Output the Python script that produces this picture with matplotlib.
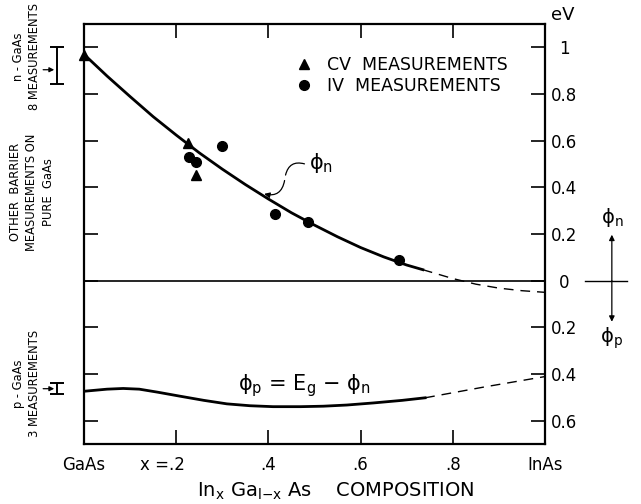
import numpy as np
import matplotlib.pyplot as plt
from matplotlib.transforms import ScaledTranslation

# barrier height data (eV); phi_p drawn below zero
cv_x = [0.0, 0.226, 0.242]
cv_y = [0.968, 0.592, 0.453]
iv_x = [0.227, 0.244, 0.299, 0.414, 0.485, 0.684]
iv_y = [0.532, 0.508, 0.575, 0.287, 0.251, 0.090]

# phi_n curve (solid part, then extrapolated dashed part)
phin_x = [0.0, 0.05, 0.10, 0.15, 0.20, 0.25, 0.30, 0.35, 0.40, 0.45, 0.50,
          0.55, 0.60, 0.65, 0.70, 0.735]
phin_y = [0.970, 0.877, 0.789, 0.703, 0.624, 0.548, 0.478, 0.412, 0.350,
          0.291, 0.238, 0.188, 0.142, 0.102, 0.067, 0.047]
phin_dash_x = [0.735, 0.80, 0.85, 0.90, 0.95, 1.0]
phin_dash_y = [0.047, 0.009, -0.015, -0.032, -0.043, -0.050]

# phi_p = Eg - phi_n curve (plotted as negative = downward)
phip_x = [0.0, 0.05, 0.085, 0.12, 0.16, 0.208, 0.26, 0.31, 0.36, 0.41, 0.47,
          0.519, 0.57, 0.628, 0.69, 0.74]
phip_y = [-0.474, -0.465, -0.462, -0.465, -0.478, -0.495, -0.513, -0.528,
          -0.536, -0.540, -0.540, -0.538, -0.533, -0.524, -0.513, -0.502]
phip_dash_x = [0.74, 0.87, 1.0]
phip_dash_y = [-0.502, -0.455, -0.411]

# pure GaAs measurement ranges (low, mean, high)
ngaas = [0.843, 0.904, 1.0]
pgaas = [-0.486, -0.463, -0.437]

xticks = [0.0, 0.2, 0.4, 0.6, 0.8, 1.0]
xlabels = ['GaAs', 'x =.2', '.4', '.6', '.8', 'InAs']
yticks = [-0.6, -0.4, -0.2, 0.0, 0.2, 0.4, 0.6, 0.8, 1.0]
ylabels = ['0.6', '0.4', '0.2', '0', '0.2', '0.4', '0.6', '0.8', '1']

fig = plt.figure(figsize=(6.41, 5.04), dpi=100)
ax = fig.add_axes([84/641, 60/504, 461/641, 420/504])

ax.plot(phin_x, phin_y, color='k', lw=2)
ax.plot(phin_dash_x, phin_dash_y, color='k', lw=1, dashes=(7, 5))
ax.plot(phip_x, phip_y, color='k', lw=2)
ax.plot(phip_dash_x, phip_dash_y, color='k', lw=1, dashes=(7, 5))
ax.axhline(0, color='k', lw=1.2)

ax.plot(cv_x, cv_y, 'k^', ms=7, ls='none', clip_on=False, label='CV  MEASUREMENTS')
ax.plot(iv_x, iv_y, 'ko', ms=7, ls='none', clip_on=False, label='IV  MEASUREMENTS')

ax.legend(loc='upper left', bbox_to_anchor=(0.44, 0.945), frameon=False,
          fontsize=12.5, handlelength=1.0, handletextpad=0.8, labelspacing=0.2,
          borderpad=0)

ax.set_xlim(0, 1)
ax.set_ylim(-0.70, 1.10)
ax.set_xticks(xticks)
ax.set_xticklabels(xlabels, fontsize=12)
ax.set_yticks(yticks)
ax.set_yticklabels(ylabels, fontsize=12)
ax.tick_params(axis='x', direction='in', length=10, width=1.2, top=True,
               bottom=True, pad=9)
ax.tick_params(axis='y', direction='in', length=10, width=1.2, left=True,
               right=True, labelleft=False, labelright=True, pad=14)
for t in ax.yaxis.get_major_ticks():
    t.label2.set_horizontalalignment('center')
# "x =.2" sits a little left of its tick
lab = ax.get_xticklabels()[1]
lab.set_transform(lab.get_transform() + ScaledTranslation(-10/72, 0, fig.dpi_scale_trans))
for s in ax.spines.values():
    s.set_linewidth(1.6)

ax.set_xlabel(r'In$_\mathregular{x}$ Ga$_{\mathregular{l{-}x}}$ As    COMPOSITION', fontsize=14)
ax.xaxis.set_label_coords(0.547, -0.088)
ax.text(1.039, 1.139, 'eV', fontsize=13, ha='center', va='center', clip_on=False)

# phi_n label with wavy pointer
ax.text(0.515, 0.505, r'$\mathrm{\phi_n}$', fontsize=15, ha='center', va='center')
ax.annotate('', xy=(0.436, 0.441), xytext=(0.484, 0.497),
            arrowprops=dict(arrowstyle='-', lw=0.9, connectionstyle='arc3,rad=0.6'))
ax.annotate('', xy=(0.385, 0.375), xytext=(0.436, 0.441),
            arrowprops=dict(arrowstyle='-|>', lw=0.9, mutation_scale=8,
                            connectionstyle='arc3,rad=-0.6', color='k'))

ax.text(0.479, -0.45, r'$\mathrm{\phi_p}$ = E$_\mathregular{g}$ $-$ $\mathrm{\phi_n}$',
        fontsize=15, ha='center', va='center')

# sign convention marker to the right of the axis
ax.plot([1.087, 1.178], [0, 0], color='k', lw=1, clip_on=False)
ax.annotate('', xy=(1.145, 0.197), xytext=(1.145, 0), annotation_clip=False,
            arrowprops=dict(arrowstyle='-|>', lw=0.9, mutation_scale=8, color='k',
                            shrinkA=0, shrinkB=0))
ax.annotate('', xy=(1.145, -0.176), xytext=(1.145, 0), annotation_clip=False,
            arrowprops=dict(arrowstyle='-|>', lw=0.9, mutation_scale=8, color='k',
                            shrinkA=0, shrinkB=0))
ax.text(1.145, 0.27, r'$\mathrm{\phi_n}$', fontsize=14, ha='center', va='center', clip_on=False)
ax.text(1.145, -0.245, r'$\mathrm{\phi_p}$', fontsize=14, ha='center', va='center', clip_on=False)

# GaAs reference measurements on the left
bx = -0.0586
for lo, mid, hi in [ngaas, pgaas]:
    eb = ax.errorbar([bx], [mid], yerr=[[mid - lo], [hi - mid]], fmt='none',
                     ecolor='k', elinewidth=1.4, capsize=5, capthick=1.4)
    for art in eb.lines[1] + eb.lines[2]:
        art.set_clip_on(False)
    ax.annotate('', xy=(bx - 0.006, mid), xytext=(bx - 0.03, mid),
                annotation_clip=False,
                arrowprops=dict(arrowstyle='-|>', lw=0.9, mutation_scale=7,
                                color='k', shrinkA=0, shrinkB=0))

side_kw = dict(rotation=90, fontsize=8.3, ha='center', va='center',
               multialignment='center', linespacing=1.35, clip_on=False)
ax.text(-0.125, 0.96, 'n - GaAs\n8 MEASUREMENTS', **side_kw)
ax.text(-0.113, 0.38, 'OTHER  BARRIER\nMEASUREMENTS ON\nPURE  GaAs', **side_kw)
ax.text(-0.125, -0.44, 'p - GaAs\n3 MEASUREMENTS', **side_kw)

fig.savefig('out.png', dpi=100)
